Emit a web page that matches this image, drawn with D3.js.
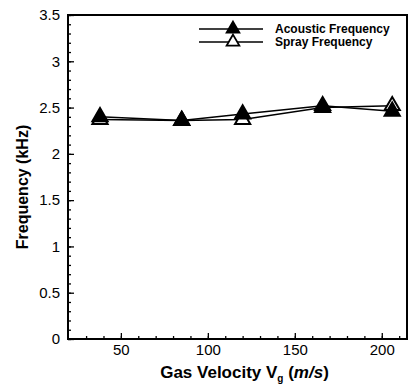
<!DOCTYPE html>
<html>
<head>
<meta charset="utf-8">
<script src="https://cdn.jsdelivr.net/npm/d3@7"></script>
<style>
body { margin: 0; background: #fff; }
svg { font-family: "Liberation Sans", Arial, sans-serif; }
</style>
</head>
<body>
<div id="graph1"></div>
<script>
// gas velocity vs frequency
const velocity = [38, 85, 120, 166, 206];
const acoustic = [2.40, 2.36, 2.43, 2.52, 2.46];
const spray = [2.37, 2.36, 2.37, 2.50, 2.52];
const xTicks = [50, 100, 150, 200];
const yTicks = [0, 0.5, 1, 1.5, 2, 2.5, 3, 3.5];
const seriesNames = ["Acoustic Frequency", "Spray Frequency"];

const width = 408, height = 385;
const margin = { top: 15, right: 1, bottom: 46, left: 68 };
const w = width - margin.left - margin.right;
const h = height - margin.top - margin.bottom;

let svg = d3.select("#graph1")
    .append("svg")
    .attr("width", width)
    .attr("height", height)
    .append("g")
    .attr("transform", `translate(${margin.left}, ${margin.top})`);

let x = d3.scaleLinear().domain([19.6, 214.5]).range([0, w]);
let y = d3.scaleLinear().domain([0, 3.5]).range([h, 0]);

// minor ticks
svg.append("g")
    .attr("transform", `translate(0, ${h})`)
    .call(d3.axisBottom(x).tickValues(d3.range(30, 215, 10)).tickSize(-3).tickFormat(""))
    .call(g => g.select(".domain").remove());
svg.append("g")
    .call(d3.axisLeft(y).tickValues(d3.range(0, 3.51, 0.1)).tickSize(-3).tickFormat(""))
    .call(g => g.select(".domain").remove());

// major ticks
svg.append("g")
    .attr("transform", `translate(0, ${h})`)
    .call(d3.axisBottom(x).tickValues(xTicks).tickSize(-6).tickPadding(5))
    .call(g => g.select(".domain").remove())
    .selectAll("text")
    .style("font-size", "15px")
    .attr("fill", "#000");
svg.append("g")
    .call(d3.axisLeft(y).tickValues(yTicks).tickSize(-6).tickPadding(8).tickFormat(d3.format("")))
    .call(g => g.select(".domain").remove())
    .selectAll("text")
    .style("font-size", "15px")
    .attr("fill", "#000");

svg.selectAll(".tick line").attr("stroke", "#000").attr("stroke-width", 1.3);

// frame
svg.append("rect")
    .attr("width", w)
    .attr("height", h)
    .attr("fill", "none")
    .attr("stroke", "#000")
    .attr("stroke-width", 2);

let line = d3.line()
    .x((d, i) => x(velocity[i]))
    .y(d => y(d));

let tri = d3.symbol().type(d3.symbolTriangle).size(100);
let triSmall = d3.symbol().type(d3.symbolTriangle).size(70);

const series = [
    { name: seriesNames[0], values: acoustic, fill: "#000" },
    { name: seriesNames[1], values: spray, fill: "#fff" }
];

series.forEach(s => {
    svg.append("path")
        .datum(s.values)
        .attr("d", line)
        .attr("fill", "none")
        .attr("stroke", "#000")
        .attr("stroke-width", 1.5);
});
series.slice().reverse().forEach(s => {
    svg.selectAll(null)
        .data(s.values)
        .enter()
        .append("path")
        .attr("d", tri)
        .attr("transform", (d, i) => `translate(${x(velocity[i])}, ${y(d)})`)
        .attr("fill", s.fill)
        .attr("stroke", "#000")
        .attr("stroke-width", 2);
});

// legend
let legend = svg.append("g").attr("transform", `translate(${199 - margin.left}, ${29 - margin.top})`);
series.forEach((s, i) => {
    let row = legend.append("g").attr("transform", `translate(0, ${i * 13})`);
    row.append("line")
        .attr("x1", 0).attr("x2", 64)
        .attr("stroke", "#000").attr("stroke-width", 1.3);
    row.append("path")
        .attr("d", triSmall)
        .attr("transform", "translate(34, 0)")
        .attr("fill", s.fill)
        .attr("stroke", "#000")
        .attr("stroke-width", 1.8);
    row.append("text")
        .attr("x", 76)
        .attr("dy", "0.35em")
        .style("font-size", "12px")
        .style("font-weight", "bold")
        .text(s.name);
});

// axis labels
svg.append("text")
    .attr("transform", `translate(${w / 2 + 7}, ${h + 39})`)
    .style("text-anchor", "middle")
    .style("font-size", "17px")
    .style("font-weight", "bold")
    .html('Gas Velocity V<tspan dy="4" font-size="10px">g</tspan><tspan dy="-4"> (</tspan><tspan font-style="italic">m/s</tspan>)');

svg.append("text")
    .attr("transform", `translate(${-40}, ${h / 2 + 10}) rotate(-90)`)
    .style("text-anchor", "middle")
    .style("font-size", "16px")
    .style("font-weight", "bold")
    .text("Frequency (kHz)");
</script>
</body>
</html>
